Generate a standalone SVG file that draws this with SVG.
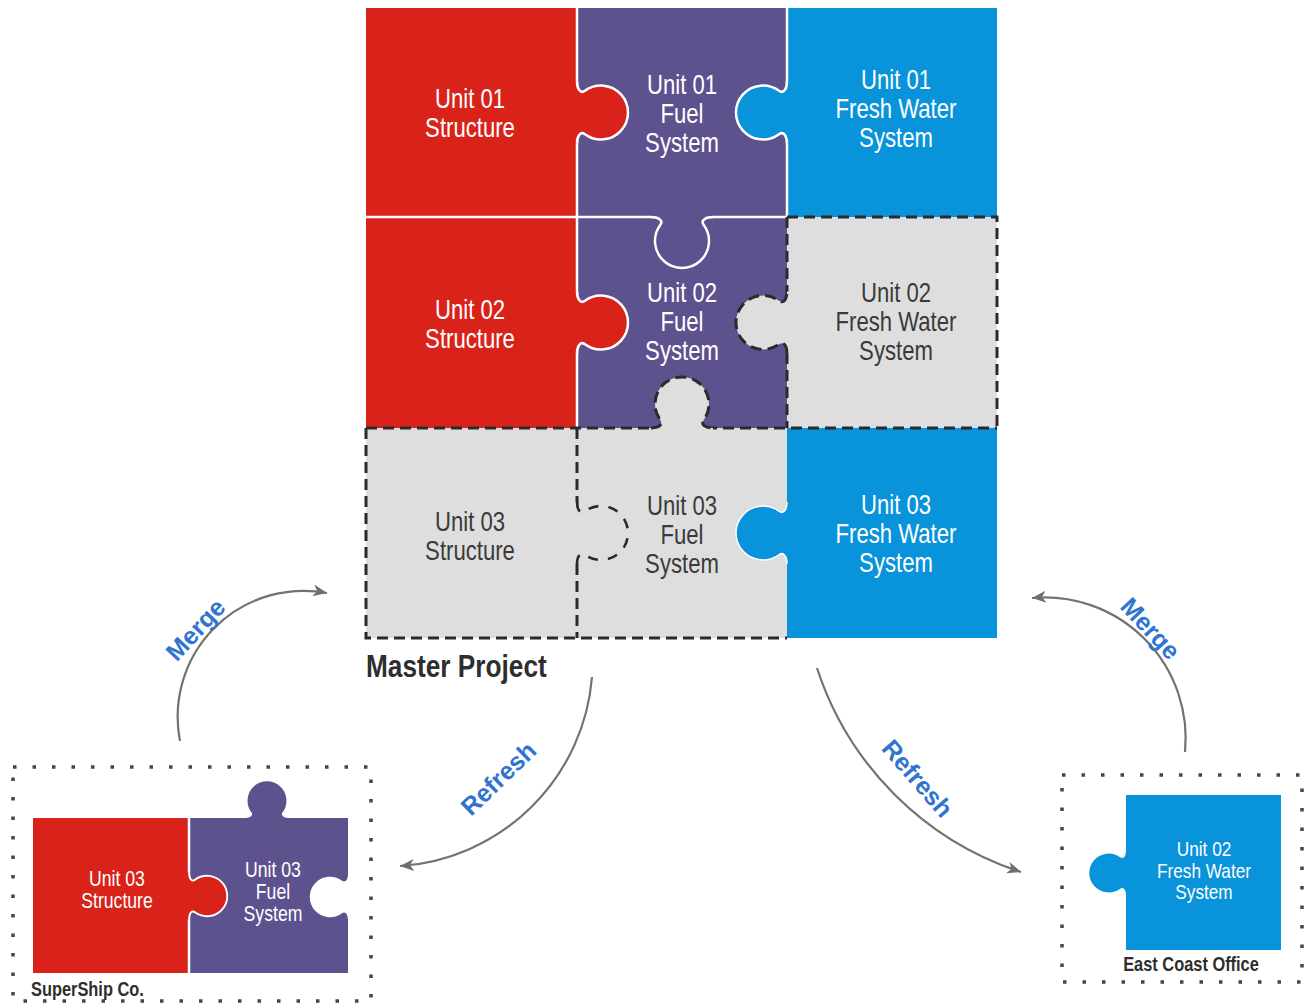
<svg xmlns="http://www.w3.org/2000/svg" xmlns:xlink="http://www.w3.org/1999/xlink" width="1309" height="1006" viewBox="0 0 1309 1006">
<style>
.red{fill:#D9231A}
.pur{fill:#5E528E}
.blu{fill:#0893DB}
.gry{fill:#DEDEDE}
.wl{fill:none;stroke:#FFFFFF;stroke-width:2.5}
.dl{fill:none;stroke:#2A2A2A;stroke-width:3;stroke-dasharray:11 6}
.tw{font-family:"Liberation Sans",Arial,sans-serif;fill:#FFFFFF;text-anchor:middle}
.tg{font-family:"Liberation Sans",Arial,sans-serif;fill:#3A3A3A;text-anchor:middle}
.big{font-size:27px}
.sm{font-size:21.5px}
.cap{font-family:"Liberation Sans",Arial,sans-serif;font-weight:bold;fill:#2E2E2E}
.lbl{font-family:"Liberation Sans",Arial,sans-serif;font-weight:bold;font-size:25px;fill:#2F74D0;text-anchor:middle}
.arc{fill:none;stroke:#727272;stroke-width:2.2}
.dot{fill:none;stroke:#444444;stroke-width:3.5;stroke-dasharray:3.5 16}
</style>
<defs>
<path id="kf" d="M-3,-31 L0,-31 C0,-24 3.16,-18.2 8,-21.75 A27,27 0 1 1 8,21.75 C3.16,18.2 0,24 0,31 L-3,31 Z"/>
<path id="kl" d="M0,-31 C0,-24 3.16,-18.2 8,-21.75 A27,27 0 1 1 8,21.75 C3.16,18.2 0,24 0,31" fill="none"/>
<marker id="ah" markerUnits="userSpaceOnUse" markerWidth="16" markerHeight="12" refX="14" refY="6" orient="auto">
<path d="M0,0 L14,6 L0,12 L4,6 Z" fill="#6E6E6E"/>
</marker>
</defs>
<rect width="1309" height="1006" fill="#FFFFFF"/>

<g id="master-grid">
<rect class="red" x="366" y="8" width="211" height="209"/>
<rect class="pur" x="577" y="8" width="210" height="209"/>
<rect class="blu" x="787" y="8" width="210" height="209"/>
<rect class="red" x="366" y="217" width="211" height="211"/>
<rect class="pur" x="577" y="217" width="210" height="211"/>
<rect class="gry" x="787" y="217" width="210" height="211"/>
<rect class="gry" x="366" y="428" width="211" height="210"/>
<rect class="gry" x="577" y="428" width="210" height="210"/>
<rect class="blu" x="787" y="428" width="210" height="210"/>
<path class="wl" d="M577,8 V428 M787,8 V217 M366,217 H787"/>
<path class="dl" d="M787,217 H997 V428 M787,217 V428 M366,428 H997 M366,428 V638 H787 M577,428 V638"/>
</g>

<g id="knobs">
<use xlink:href="#kf" class="red" transform="translate(577,112.5)"/>
<use xlink:href="#kl" class="wl" transform="translate(577,112.5)"/>
<use xlink:href="#kf" class="blu" transform="translate(787,112.5) rotate(180)"/>
<use xlink:href="#kl" class="wl" transform="translate(787,112.5) rotate(180)"/>
<use xlink:href="#kf" class="pur" transform="translate(682,217) rotate(90)"/>
<use xlink:href="#kl" class="wl" transform="translate(682,217) rotate(90)"/>
<use xlink:href="#kf" class="red" transform="translate(577,322.5)"/>
<use xlink:href="#kl" class="wl" transform="translate(577,322.5)"/>
<use xlink:href="#kf" class="gry" transform="translate(787,322.5) rotate(180)"/>
<use xlink:href="#kl" class="dl" transform="translate(787,322.5) rotate(180)"/>
<use xlink:href="#kf" class="gry" transform="translate(682,428) rotate(-90)"/>
<use xlink:href="#kl" class="dl" transform="translate(682,428) rotate(-90)"/>
<use xlink:href="#kf" class="gry" transform="translate(577,533)"/>
<use xlink:href="#kl" class="dl" style="stroke-dasharray:10 10;stroke-width:2.6" transform="translate(577,533)"/>
<use xlink:href="#kf" class="blu" transform="translate(787,533) rotate(180)"/>
<use xlink:href="#kl" class="wl" style="stroke-width:1.5" transform="translate(787,533) rotate(180)"/>
</g>

<g id="u01-structure" transform="translate(470,0) scale(0.82,1)"><text class="tw big"><tspan x="0" y="108">Unit 01</tspan><tspan x="0" y="137">Structure</tspan></text></g>
<g id="u01-fuel" transform="translate(682,0) scale(0.82,1)"><text class="tw big"><tspan x="0" y="94">Unit 01</tspan><tspan x="0" y="123">Fuel</tspan><tspan x="0" y="152">System</tspan></text></g>
<g id="u01-water" transform="translate(896,0) scale(0.82,1)"><text class="tw big"><tspan x="0" y="89">Unit 01</tspan><tspan x="0" y="118">Fresh Water</tspan><tspan x="0" y="147">System</tspan></text></g>
<g id="u02-structure" transform="translate(470,0) scale(0.82,1)"><text class="tw big"><tspan x="0" y="319">Unit 02</tspan><tspan x="0" y="348">Structure</tspan></text></g>
<g id="u02-fuel" transform="translate(682,0) scale(0.82,1)"><text class="tw big"><tspan x="0" y="302">Unit 02</tspan><tspan x="0" y="331">Fuel</tspan><tspan x="0" y="360">System</tspan></text></g>
<g id="u02-water" transform="translate(896,0) scale(0.82,1)"><text class="tg big"><tspan x="0" y="302">Unit 02</tspan><tspan x="0" y="331">Fresh Water</tspan><tspan x="0" y="360">System</tspan></text></g>
<g id="u03-structure" transform="translate(470,0) scale(0.82,1)"><text class="tg big"><tspan x="0" y="531">Unit 03</tspan><tspan x="0" y="560">Structure</tspan></text></g>
<g id="u03-fuel" transform="translate(682,0) scale(0.82,1)"><text class="tg big"><tspan x="0" y="515">Unit 03</tspan><tspan x="0" y="544">Fuel</tspan><tspan x="0" y="573">System</tspan></text></g>
<g id="u03-water" transform="translate(896,0) scale(0.82,1)"><text class="tw big"><tspan x="0" y="514">Unit 03</tspan><tspan x="0" y="543">Fresh Water</tspan><tspan x="0" y="572">System</tspan></text></g>
<g id="master-label" transform="translate(366,0) scale(0.82,1)"><text class="cap" x="0" y="677" style="font-size:32px">Master Project</text></g>

<g id="supership">
<rect class="dot" x="13" y="767" width="358" height="234"/>
<rect class="red" x="33" y="818" width="156" height="155"/>
<rect class="pur" x="189" y="818" width="159" height="155"/>
<path class="wl" d="M189,818 V973"/>
<use xlink:href="#kf" class="pur" transform="translate(267,818) rotate(-90) scale(0.72)"/>
<use xlink:href="#kf" fill="#FFFFFF" transform="translate(348,897) rotate(180) scale(0.75)"/>
<use xlink:href="#kf" class="red" transform="translate(189,896) scale(0.75)"/>
<use xlink:href="#kl" class="wl" style="stroke-width:2.5px" transform="translate(189,896) scale(0.75)"/>
<g transform="translate(117,0) scale(0.82,1)"><text class="tw sm"><tspan x="0" y="886">Unit 03</tspan><tspan x="0" y="908">Structure</tspan></text></g>
<g transform="translate(273,0) scale(0.82,1)"><text class="tw sm"><tspan x="0" y="877">Unit 03</tspan><tspan x="0" y="899">Fuel</tspan><tspan x="0" y="921">System</tspan></text></g>
<g transform="translate(31,0) scale(0.82,1)"><text class="cap" x="0" y="996" style="font-size:20px">SuperShip Co.</text></g>
</g>

<g id="eastcoast">
<rect class="dot" x="1062" y="775" width="240" height="207"/>
<rect class="blu" x="1126" y="795" width="155" height="155"/>
<use xlink:href="#kf" class="blu" transform="translate(1126,873) rotate(180) scale(0.72)"/>
<g transform="translate(1204,0) scale(0.82,1)"><text class="tw sm" style="font-size:21px"><tspan x="0" y="856">Unit 02</tspan><tspan x="0" y="878">Fresh Water</tspan><tspan x="0" y="899">System</tspan></text></g>
<g transform="translate(1191,0) scale(0.82,1)"><text class="cap" x="0" y="971" style="font-size:20px;text-anchor:middle">East Coast Office</text></g>
</g>

<g id="connectors">
<path class="arc" d="M180,741 A126,126 0 0 1 327,593" marker-end="url(#ah)"/>
<path class="arc" d="M592,677 A206,206 0 0 1 400,866" marker-end="url(#ah)"/>
<path class="arc" d="M817,668 A318,318 0 0 0 1021,872" marker-end="url(#ah)"/>
<path class="arc" d="M1185,752 A141,141 0 0 0 1032,598" marker-end="url(#ah)"/>
<text class="lbl" transform="translate(196,630) rotate(-47)" dy="8">Merge</text>
<text class="lbl" transform="translate(499,779) rotate(-44)" dy="8">Refresh</text>
<text class="lbl" transform="translate(917,779) rotate(49)" dy="8">Refresh</text>
<text class="lbl" transform="translate(1150,629) rotate(47)" dy="8">Merge</text>
</g>
</svg>
